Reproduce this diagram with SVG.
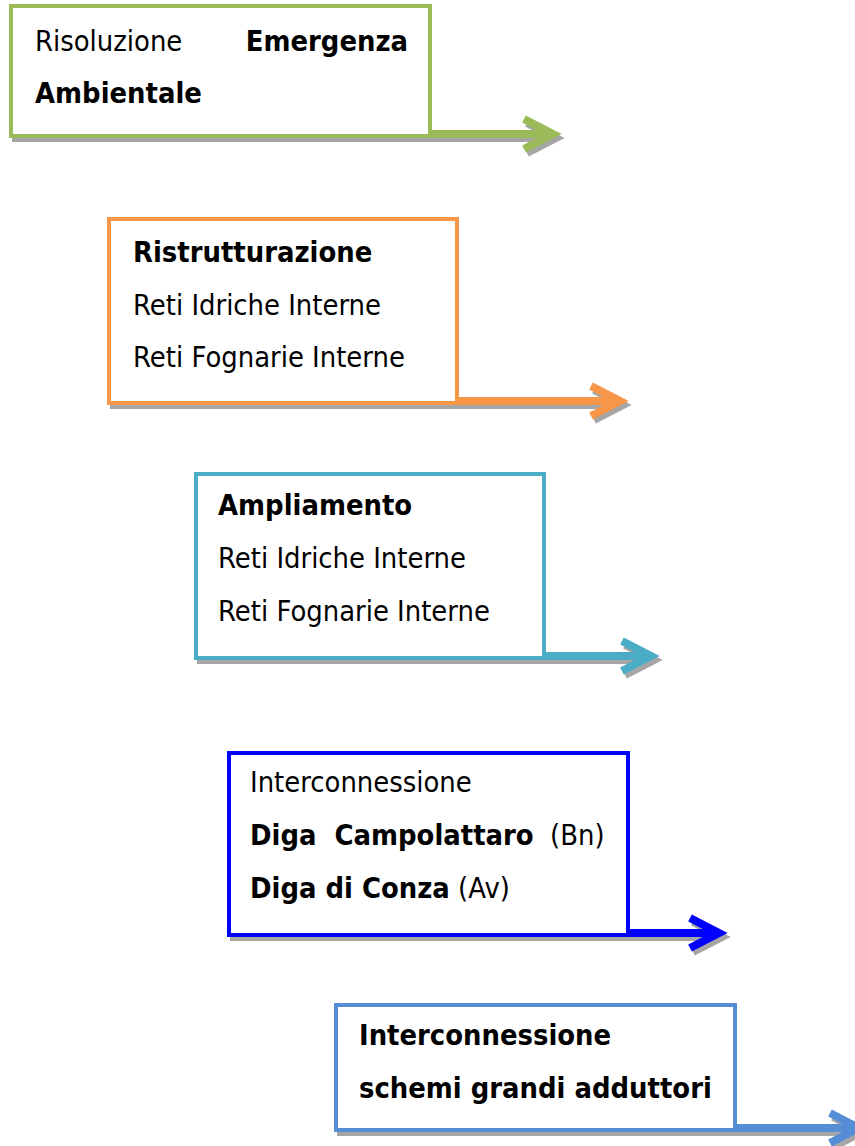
<svg xmlns="http://www.w3.org/2000/svg" width="855" height="1146" viewBox="0 0 855 1146">
<defs>
<style>
.t{font-family:"DejaVu Sans","Verdana",sans-serif;font-size:28.5px;fill:#000}
.b{font-weight:bold}
.box{fill:#fff;stroke-width:4}
.arr{fill:none;stroke-width:8;stroke-linejoin:miter;stroke-linecap:butt}
.sh{stroke:#a6a6a6}
</style>
</defs>
<g id="connectors">
<g id="a1">
<path class="arr sh" d="M12 138 H556"/><path class="arr sh" d="M527 123 L556 138 L527 153"/>
<path class="arr" stroke="#9bbb59" d="M9 134 H553"/><path class="arr" stroke="#9bbb59" d="M524 119 L553 134 L524 149"/>
</g>
<g id="a2">
<path class="arr sh" d="M110 405 H623"/><path class="arr sh" d="M594 390 L623 405 L594 420"/>
<path class="arr" stroke="#f79646" d="M107 401 H620"/><path class="arr" stroke="#f79646" d="M591 386 L620 401 L591 416"/>
</g>
<g id="a3">
<path class="arr sh" d="M197 660 H654"/><path class="arr sh" d="M625 645 L654 660 L625 675"/>
<path class="arr" stroke="#4bacc6" d="M194 656 H651"/><path class="arr" stroke="#4bacc6" d="M622 641 L651 656 L622 671"/>
</g>
<g id="a4">
<path class="arr sh" d="M230 937 H722"/><path class="arr sh" d="M693 922 L722 937 L693 952"/>
<path class="arr" stroke="#0000ff" d="M227 933 H719"/><path class="arr" stroke="#0000ff" d="M690 918 L719 933 L690 948"/>
</g>
<g id="a5">
<path class="arr sh" d="M337 1132 H858"/><path class="arr sh" d="M833 1117 L862 1132 L833 1147"/>
<path class="arr" stroke="#558ed5" d="M334 1128 H855"/><path class="arr" stroke="#558ed5" d="M830 1113 L859 1128 L830 1143"/>
</g>
</g>
<g id="node1">
<path class="box" stroke="#9bbb59" d="M11 134 V6 H430 V134"/>
<text class="t" transform="translate(35 51) scale(0.91 1)">Risoluzione</text>
<text class="t b" transform="translate(408 51) scale(0.91 1)" text-anchor="end">Emergenza</text>
<text class="t b" transform="translate(35 103) scale(0.91 1)">Ambientale</text>
</g>
<g id="node2">
<path class="box" stroke="#f79646" d="M109 401 V219 H457 V401"/>
<text class="t b" transform="translate(133 262) scale(0.91 1)">Ristrutturazione</text>
<text class="t" transform="translate(133 315) scale(0.91 1)">Reti Idriche Interne</text>
<text class="t" transform="translate(133 367) scale(0.91 1)">Reti Fognarie Interne</text>
</g>
<g id="node3">
<path class="box" stroke="#4bacc6" d="M196 656 V474 H544 V656"/>
<text class="t b" transform="translate(218 515) scale(0.91 1)">Ampliamento</text>
<text class="t" transform="translate(218 568) scale(0.91 1)">Reti Idriche Interne</text>
<text class="t" transform="translate(218 621) scale(0.91 1)">Reti Fognarie Interne</text>
</g>
<g id="node4">
<path class="box" stroke="#0000ff" d="M229 933 V753 H628 V933"/>
<text class="t" transform="translate(250 792) scale(0.91 1)">Interconnessione</text>
<text class="t" transform="translate(250 845) scale(0.91 1)" xml:space="preserve"><tspan class="b">Diga  Campolattaro</tspan>  (Bn)</text>
<text class="t" transform="translate(250 898) scale(0.91 1)" xml:space="preserve"><tspan class="b">Diga di Conza</tspan> (Av)</text>
</g>
<g id="node5">
<path class="box" stroke="#558ed5" d="M336 1128 V1005 H735 V1128"/>
<text class="t b" transform="translate(359 1045) scale(0.91 1)">Interconnessione</text>
<text class="t b" transform="translate(359 1098) scale(0.91 1)">schemi grandi adduttori</text>
</g>
</svg>
